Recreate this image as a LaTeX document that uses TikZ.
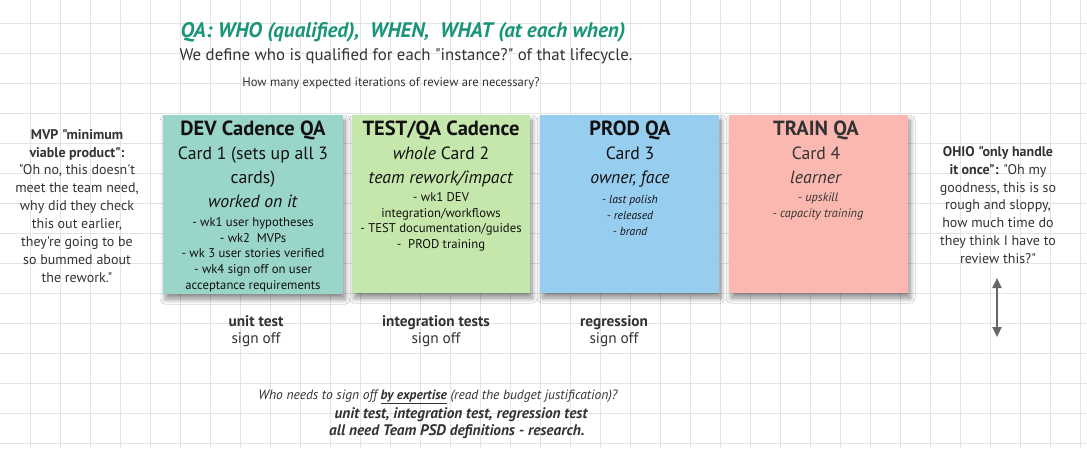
\documentclass[tikz,border=0pt]{standalone}
\usepackage{fontspec}
\setmainfont{PT Sans}[Ligatures=TeXOff]
\usetikzlibrary{shadows.blur,arrows.meta}
\definecolor{gridc}{HTML}{E4E4E4}
\definecolor{titlec}{HTML}{1B957A}
\definecolor{cardA}{HTML}{99D5C9}
\definecolor{cardB}{HTML}{C6E7AB}
\definecolor{cardC}{HTML}{97CEF0}
\definecolor{cardD}{HTML}{FBB8B0}
\definecolor{txt}{HTML}{333333}
\definecolor{ink}{HTML}{111111}
\definecolor{arrc}{HTML}{666666}
\newcommand{\hb}[1]{{\fontsize{20.5}{24}\selectfont\bfseries #1}}
\begin{document}
\begin{tikzpicture}[x=1pt,y=-1pt,
  card/.style={rectangle, draw=none, anchor=north west, inner sep=0pt,
    blur shadow={shadow xshift=2pt, shadow yshift=-5pt, shadow blur radius=5pt, shadow blur steps=10, shadow opacity=45}},
  hdr/.style={anchor=north, inner sep=0pt, align=center, text=ink, font=\fontsize{17.7}{24}\selectfont},
  lst/.style={anchor=north, inner sep=0pt, align=center, text=ink, font=\fontsize{12.7}{15.8}\selectfont},
  side/.style={anchor=north, inner sep=0pt, align=center, text=txt, font=\fontsize{14}{17.9}\selectfont},
  lbl/.style={anchor=north, inner sep=0pt, align=center, text=txt, font=\fontsize{15.3}{17}\selectfont},
  one/.style={anchor=base, inner sep=0pt, text=txt},
  arr/.style={{Triangle[width=9pt,length=10pt]}-{Triangle[width=9pt,length=10pt]}, line width=2pt, draw=arrc}
]
\fill[white] (0,0) rectangle (1087,448);
\useasboundingbox (0,0) rectangle (1087,448);
\foreach \x in {30,60,...,1080} \draw[gridc, line width=0.8pt] (\x,0) -- (\x,448);
\foreach \y in {23,53,...,443} \draw[gridc, line width=0.8pt] (0,\y) -- (1087,\y);

% titles
\node[one, text=titlec, font=\fontsize{21.1}{26}\selectfont\bfseries\itshape] (t1) at (403,37) {QA: WHO (qualified),\ \ WHEN,\ \ WHAT (at each when)};
\node[one, font=\fontsize{16.8}{22}\selectfont] (t2) at (406,60) {We define who is qualified for each "instance?" of that lifecycle.};
\node[one, font=\fontsize{12.6}{15}\selectfont] (t3) at (391,86) {How many expected iterations of review are necessary?};

% cards
\node[card, fill=cardA, minimum width=180pt, minimum height=179pt] (c1) at (163,115) {};
\node[card, fill=cardB, minimum width=178pt, minimum height=178pt] (c2) at (352,115) {};
\node[card, fill=cardC, minimum width=179pt, minimum height=178pt] (c3) at (540,115) {};
\node[card, fill=cardD, minimum width=179pt, minimum height=178pt] (c4) at (729,115) {};

\node[hdr] (c1h) at (253,120.5) {\hb{DEV Cadence QA}\\Card 1 (sets up all 3\\cards)\\\textit{worked on it}};
\node[lst] (c1l) at (253,217) {- wk1 user hypotheses\\- wk2\ \ MVPs\\- wk 3 user stories verified\\- wk4 sign off on user\\acceptance requirements};

\node[hdr] (c2h) at (441,120.5) {\hb{TEST/QA Cadence}\\\textit{whole} Card 2\\\textit{team rework/impact}};
\node[lst] (c2l) at (441,192) {- wk1 DEV\\integration/workflows\\- TEST documentation/guides\\-\ \ PROD training};

\node[hdr] (c3h) at (630,120.5) {\hb{PROD QA}\\Card 3\\\textit{owner, face}};
\node[lst, font=\fontsize{11.6}{16}\selectfont\itshape] (c3l) at (630,195) {- last polish\\- released\\- brand};

\node[hdr, text=txt] (c4h) at (816,120.5) {\hb{TRAIN QA}\\Card 4\\\textit{learner}};
\node[lst, text=txt, font=\fontsize{12.3}{16}\selectfont\itshape] (c4l) at (818,192.5) {- upskill\\- capacity training};

% side notes
\node[side] (mvp) at (77,129) {\textbf{MVP "minimum}\\\textbf{viable product":}\\"Oh no, this doesn't\\meet the team need,\\why did they check\\this out earlier,\\they're going to be\\so bummed about\\the rework."};
\node[side] (ohio) at (998,146) {\textbf{OHIO "only handle}\\\textbf{it once":} "Oh my\\goodness, this is so\\rough and sloppy,\\how much time do\\they think I have to\\review this?"};
\coordinate (atop) at (997,278);
\coordinate (abot) at (997,337);
\draw[arr] (atop) -- (abot);

% sign-off labels
\node[lbl] (s1) at (256,315) {\textbf{unit test}\\sign off};
\node[lbl] (s2) at (436,315) {\textbf{integration tests}\\sign off};
\node[lbl] (s3) at (614,315) {\textbf{regression}\\sign off};

% bottom
\node[one, font=\fontsize{13.5}{17}\selectfont\itshape] (b1) at (438,399) {Who needs to sign off \underline{\textbf{by expertise}} (read the budget justification)?};
\node[one, font=\fontsize{15.3}{17}\selectfont\bfseries\itshape] (b2) at (461,418) {unit test, integration test, regression test};
\node[one, font=\fontsize{15.3}{17}\selectfont\bfseries\itshape] (b3) at (457,435) {all need Team PSD definitions - research.};
\end{tikzpicture}
\end{document}
